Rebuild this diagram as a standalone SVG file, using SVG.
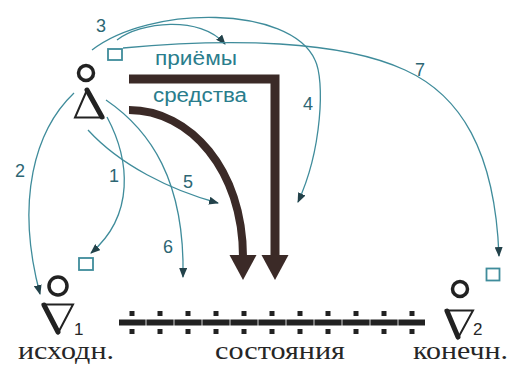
<svg xmlns="http://www.w3.org/2000/svg" width="511" height="365" viewBox="0 0 511 365">
<defs>
<style>
.conn{fill:none;stroke:#3f8c9b;stroke-width:1.3}
.num{font-family:"Liberation Sans",Arial,sans-serif;font-size:18px;fill:#2d6673}
.lbl{font-family:"Liberation Sans",Arial,sans-serif;font-size:20px;fill:#2a7d8c}
.ser{font-family:"Liberation Serif","Times New Roman",serif;font-size:25px;fill:#262626}
.sub{font-family:"Liberation Sans",Arial,sans-serif;font-size:17px;fill:#262626}
.ring{fill:none;stroke:#222;stroke-width:3.5}
.sq{fill:none;stroke:#3f8c9b;stroke-width:1.8}
.thick{fill:none;stroke:#3b2a27}
.head{fill:#3b2a27}
.dot{fill:#222}
</style>
<marker id="ah" viewBox="0 0 10 8" refX="9" refY="4" markerWidth="10" markerHeight="8" markerUnits="userSpaceOnUse" orient="auto">
<path d="M0,0 L10,4 L0,8 Z" fill="#23424a"/>
</marker>
</defs>
<rect width="511" height="365" fill="#fff"/>

<g id="actor">
<circle class="ring" cx="86" cy="73" r="7.5"/>
<polygon points="87,90 75,117.5 103,117.5" fill="none" stroke="#222" stroke-width="2"/>
<line x1="87" y1="90" x2="102" y2="117" stroke="#222" stroke-width="5" stroke-linecap="round"/>
</g>

<g id="square-top"><rect class="sq" x="108" y="49" width="14" height="11"/></g>

<g id="priemy">
<path class="thick" d="M129,79 H275 V257" stroke-width="9"/>
<polygon class="head" points="261.5,255 288.5,255 275,280"/>
<text class="lbl" x="155" y="65" textLength="82" lengthAdjust="spacingAndGlyphs">приёмы</text>
</g>

<g id="sredstva">
<path class="thick" d="M129,110 C190,110 243,170 243,257" stroke-width="8"/>
<polygon class="head" points="229.5,255 256.5,255 243,280"/>
<text class="lbl" x="153" y="102" textLength="94" lengthAdjust="spacingAndGlyphs">средства</text>
</g>

<g id="start">
<circle class="ring" cx="58" cy="286" r="9"/>
<polygon points="43,304.5 73,304.5 58,333" fill="none" stroke="#222" stroke-width="2"/>
<line x1="44" y1="305" x2="58" y2="332" stroke="#222" stroke-width="5" stroke-linecap="round"/>
<text class="sub" x="74" y="335">1</text>
<text class="ser" x="18" y="359" textLength="96" lengthAdjust="spacingAndGlyphs">исходн.</text>
</g>

<g id="square-1"><rect class="sq" x="79" y="258" width="14" height="12"/></g>

<g id="end">
<circle class="ring" cx="460" cy="289" r="7.5"/>
<polygon points="446,310.5 473,310.5 458,338" fill="none" stroke="#222" stroke-width="2"/>
<line x1="447" y1="311" x2="458" y2="337" stroke="#222" stroke-width="5" stroke-linecap="round"/>
<text class="sub" x="473" y="335">2</text>
<text class="ser" x="413" y="359" textLength="95" lengthAdjust="spacingAndGlyphs">конечн.</text>
</g>

<g id="square-end"><rect class="sq" x="486.5" y="268.5" width="13" height="12"/></g>

<g id="states">
<rect x="119" y="319.5" width="306" height="6" fill="#222"/>
<g stroke="#fff" stroke-width="1" stroke-opacity="0.8">
<line x1="146" y1="319" x2="146" y2="326"/><line x1="174" y1="319" x2="174" y2="326"/><line x1="202" y1="319" x2="202" y2="326"/><line x1="230" y1="319" x2="230" y2="326"/><line x1="258" y1="319" x2="258" y2="326"/><line x1="286" y1="319" x2="286" y2="326"/><line x1="314" y1="319" x2="314" y2="326"/><line x1="342" y1="319" x2="342" y2="326"/><line x1="370" y1="319" x2="370" y2="326"/><line x1="398" y1="319" x2="398" y2="326"/>
</g>
<g class="dot">
<rect x="129.5" y="311" width="5" height="5"/><rect x="129.5" y="329" width="5" height="5"/>
<rect x="157.5" y="311" width="5" height="5"/><rect x="157.5" y="329" width="5" height="5"/>
<rect x="185.5" y="311" width="5" height="5"/><rect x="185.5" y="329" width="5" height="5"/>
<rect x="213.5" y="311" width="5" height="5"/><rect x="213.5" y="329" width="5" height="5"/>
<rect x="241.5" y="311" width="5" height="5"/><rect x="241.5" y="329" width="5" height="5"/>
<rect x="269.5" y="311" width="5" height="5"/><rect x="269.5" y="329" width="5" height="5"/>
<rect x="297.5" y="311" width="5" height="5"/><rect x="297.5" y="329" width="5" height="5"/>
<rect x="325.5" y="311" width="5" height="5"/><rect x="325.5" y="329" width="5" height="5"/>
<rect x="353.5" y="311" width="5" height="5"/><rect x="353.5" y="329" width="5" height="5"/>
<rect x="381.5" y="311" width="5" height="5"/><rect x="381.5" y="329" width="5" height="5"/>
<rect x="409.5" y="311" width="5" height="5"/><rect x="409.5" y="329" width="5" height="5"/>
</g>
<text class="ser" x="215" y="359" textLength="130" lengthAdjust="spacingAndGlyphs">состояния</text>
</g>

<g id="connectors">
<path class="conn" d="M107,117 C130,160 135,215 91,253" marker-end="url(#ah)"/>
<path class="conn" d="M74,93 C35,130 15,200 40,294" marker-end="url(#ah)"/>
<path class="conn" d="M117,40 C140,22 200,15 225,44" marker-end="url(#ah)"/>
<path class="conn" d="M92,50 C150,5 290,5 315,60 C325,80 322,150 298,202" marker-end="url(#ah)"/>
<path class="conn" d="M88,130 C120,165 170,190 218,203" marker-end="url(#ah)"/>
<path class="conn" d="M106,100 C150,130 185,180 183,277" marker-end="url(#ah)"/>
<path class="conn" d="M123,48 C230,38 340,40 405,70 C460,95 495,150 499,256" marker-end="url(#ah)"/>
</g>

<g id="labels">
<text class="num" x="96" y="32">3</text>
<text class="num" x="15" y="177">2</text>
<text class="num" x="109" y="182">1</text>
<text class="num" x="183" y="188">5</text>
<text class="num" x="163" y="253">6</text>
<text class="num" x="303" y="110">4</text>
<text class="num" x="415" y="76">7</text>
</g>
</svg>
